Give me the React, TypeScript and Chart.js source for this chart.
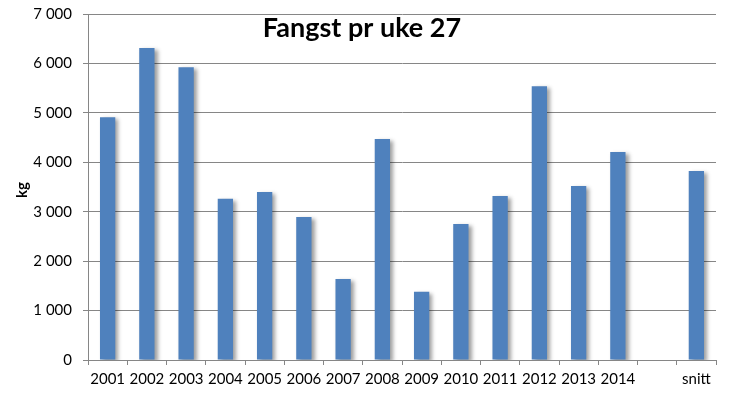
import React, { useEffect, useRef } from "react";
import { Chart, registerables } from "chart.js";

Chart.register(...registerables);

const categories = ["2001", "2002", "2003", "2004", "2005", "2006", "2007", "2008", "2009", "2010", "2011", "2012", "2013", "2014", "", "snitt"];
const catchKg = [4910, 6310, 5925, 3260, 3400, 2895, 1640, 4470, 1380, 2750, 3320, 5540, 3520, 4210, null, 3825];
const titleText = "Fangst pr uke 27";
const yAxisLabel = "kg";
const yMax = 7000;
const yStep = 1000;

const FONT = "Lato, 'Open Sans', sans-serif";

const fmt = (v: number) => {
  const s = Math.round(v).toString();
  return s.replace(/\B(?=(\d{3})+(?!\d))/g, " ");
};

export default function App() {
  const ref = useRef<HTMLCanvasElement | null>(null);
  useEffect(() => {
    if (!ref.current) return;
    const shadowPlugin = {
      id: "shadow",
      beforeDatasetsDraw(chart: any) {
        const ctx = chart.ctx;
        ctx.save();
        ctx.shadowColor = "rgba(0,0,0,0.38)";
        ctx.shadowBlur = 4;
        ctx.shadowOffsetX = 3;
        ctx.shadowOffsetY = 2;
      },
      afterDatasetsDraw(chart: any) {
        chart.ctx.restore();
      },
    };
    const textPlugin = {
      id: "texts",
      afterDraw(chart: any) {
        const ctx = chart.ctx;
        ctx.save();
        ctx.fillStyle = "#000";
        ctx.font = `bold 27px ${FONT}`;
        ctx.textAlign = "center";
        ctx.textBaseline = "alphabetic";
        ctx.fillText(titleText, 362, 37);
        ctx.translate(22, 190);
        ctx.rotate(-Math.PI / 2);
        ctx.font = `bold 15px ${FONT}`;
        ctx.textAlign = "center";
        ctx.textBaseline = "middle";
        ctx.fillText(yAxisLabel, 0, 0);
        ctx.restore();
      },
    };
    const chart = new Chart(ref.current, {
      type: "bar",
      data: {
        labels: categories,
        datasets: [
          {
            data: catchKg as any,
            backgroundColor: "#4F81BD",
            borderWidth: 0,
            barPercentage: 0.39,
            categoryPercentage: 1,
          },
        ],
      },
      options: {
        responsive: false,
        animation: false,
        devicePixelRatio: 1,
        layout: { padding: { left: 0, right: 17, top: 14, bottom: 0 } },
        plugins: {
          legend: { display: false },
          title: { display: false },
          tooltip: { enabled: false },
        },
        scales: {
          x: {
            offset: true,
            grid: {
              offset: true,
              drawOnChartArea: false,
              drawTicks: true,
              tickLength: 5,
              color: "#868686",
            },
            border: { color: "#868686" },
            ticks: {
              color: "#000",
              font: { family: FONT, size: 15 },
              padding: 5,
              maxRotation: 0,
              autoSkip: false,
            },
            afterFit(scale: any) {
              scale.height = 38;
            },
          },
          y: {
            min: 0,
            max: yMax,
            grid: {
              color: "#868686",
              tickLength: 5,
            },
            border: { color: "#868686" },
            ticks: {
              stepSize: yStep,
              color: "#000",
              font: { family: FONT, size: 15 },
              padding: 11,
              callback: (v: any) => fmt(Number(v)),
            },
            afterFit(scale: any) {
              scale.width = 88;
              scale.paddingTop = 0;
              scale.paddingBottom = 0;
            },
          },
        },
      },
      plugins: [shadowPlugin, textPlugin],
    });
    return () => chart.destroy();
  }, []);
  return (
    <div style={{ position: "absolute", left: 0, top: 0, width: 733, height: 398, background: "#fff" }}>
      <canvas ref={ref} width={733} height={398} style={{ width: 733, height: 398 }} />
    </div>
  );
}
